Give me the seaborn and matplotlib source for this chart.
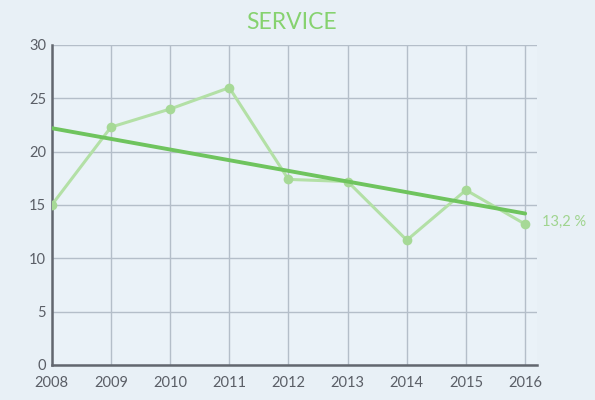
import matplotlib
matplotlib.use("Agg")
import matplotlib.pyplot as plt
import seaborn as sns
import pandas as pd

# data
years = [2008, 2009, 2010, 2011, 2012, 2013, 2014, 2015, 2016]
service = [15.0, 22.3, 24.0, 26.0, 17.4, 17.2, 11.7, 16.4, 13.2]
trend_years = [2008, 2016]
trend_vals = [22.2, 14.2]
last_label = "13,2 %"

df = pd.DataFrame({"year": years, "value": service})
trend = pd.DataFrame({"year": trend_years, "value": trend_vals})

sns.set_style("whitegrid")
plt.rcParams["font.family"] = ["Lato", "DejaVu Sans"]

bg = "#e8f0f6"
light_green = "#b3e0a6"
dark_green = "#6fc45e"

fig = plt.figure(figsize=(5.95, 4.0), dpi=100, facecolor=bg)
ax = fig.add_axes([0.087, 0.0875, 0.8155, 0.80])
ax.set_facecolor("#eaf2f8")

sns.lineplot(data=df, x="year", y="value", ax=ax, color=light_green,
             linewidth=2.2, marker="o", markersize=7, markeredgewidth=0,
             markerfacecolor="#a6d996", zorder=3)
sns.lineplot(data=trend, x="year", y="value", ax=ax, color=dark_green,
             linewidth=2.8, zorder=4)

ax.set_xlim(2008, 2008.2 + 8)
ax.set_ylim(0, 30)
ax.set_xticks(years)
ax.set_yticks(range(0, 31, 5))
ax.tick_params(axis="both", labelsize=10.5, colors="#5a5e66", length=0)
ax.tick_params(axis="x", pad=8)
ax.tick_params(axis="y", pad=4)
ax.set_xlabel("")
ax.set_ylabel("")
ax.grid(True, color="#b4bec9", linewidth=1.0)

for side in ["top", "right"]:
    ax.spines[side].set_visible(False)
for side in ["left", "bottom"]:
    ax.spines[side].set_color("#62676f")
    ax.spines[side].set_linewidth(1.8)

ax.text(years[-1] + 0.28, service[-1] + 0.2, last_label, color="#9fd48e",
        fontsize=10.5, va="center", ha="left", clip_on=False)

fig.text(0.49, 0.943, "SERVICE", color="#86d26f", fontsize=16.5,
         ha="center", va="center")

fig.savefig("out.png", dpi=100, facecolor=bg)
